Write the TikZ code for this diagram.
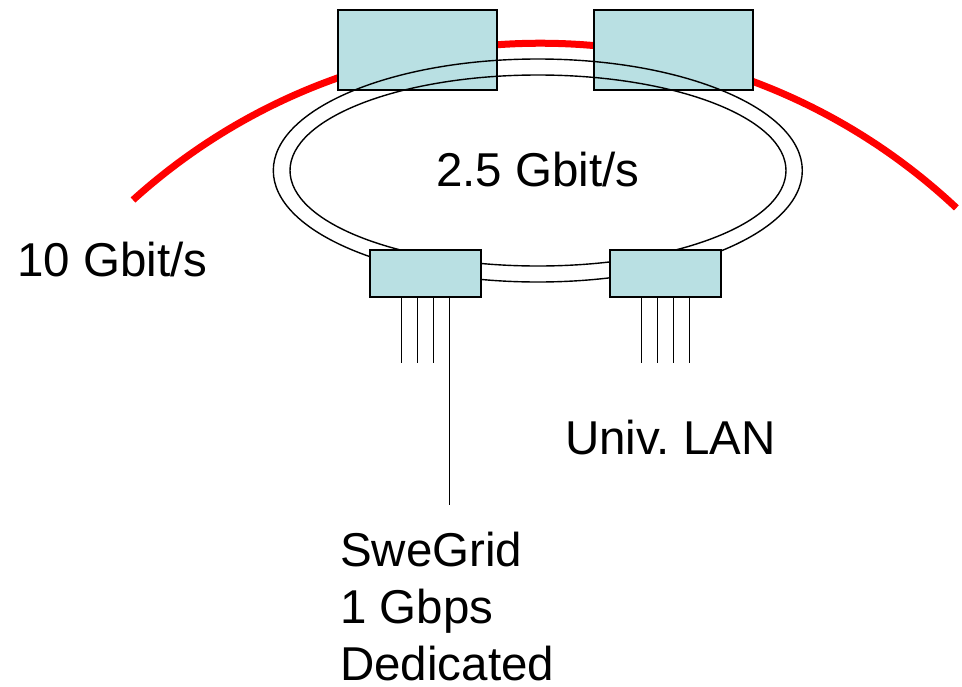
\documentclass[tikz,border=0pt]{standalone}
\usepackage{fontspec}
\setmainfont{Liberation Sans}
\frenchspacing
\usepackage{xcolor}
\definecolor{cBox}{HTML}{B9E0E3}
\definecolor{cWan}{HTML}{FF0000}
\usetikzlibrary{positioning}
\tikzset{
  node-router/.style={draw=black,line width=1.8pt,fill=cBox,inner sep=0pt,
    minimum width=159pt,minimum height=80pt},
  node-edge/.style={draw=black,line width=1.8pt,fill=cBox,inner sep=0pt,
    minimum width=111pt,minimum height=47pt},
  node-text/.style={inner sep=0pt,anchor=base west,align=left,
    font=\fontsize{47.5}{57}\selectfont},
  link-wan/.style={draw=cWan,line width=7pt},
  link-ring/.style={draw=black,line width=1.4pt},
  link-port/.style={draw=black,line width=1.4pt},
}
\begin{document}
\begin{tikzpicture}[x=1pt,y=-1pt]
  \useasboundingbox (0,0) rectangle (962,686);
  % 10 Gbit/s backbone
  \draw[link-wan] (133,200) arc[start angle=227.9,end angle=313.2,radius=607.7];
  \node[node-router] (cw) at (417.5,50) {};
  \node[node-router,right=95pt of cw] (ce) {};
  % 2.5 Gbit/s ring
  \draw[link-ring] (537.8,170.5) ellipse[x radius=264.5,y radius=111.5];
  \draw[link-ring] (538,170.5) ellipse[x radius=248,y radius=95.5];
  \node[node-edge] (gr) at (425.5,273.5) {};
  \node[node-edge,right=127pt of gr] (ln) {};
  \foreach \dx in {-24,-8,8} {
    \draw[link-port] ([xshift=\dx pt]gr.south) -- ++(0,65);
    \draw[link-port] ([xshift=\dx pt]ln.south) -- ++(0,65);
  }
  \draw[link-port] ([xshift=24pt]ln.south) -- ++(0,65);
  \coordinate (gend) at ([xshift=24pt]gr.south |- 0,505);
  \draw[link-port] ([xshift=24pt]gr.south) -- (gend);
  % labels
  \node[node-text] (wan)  at (17,276)  {10 Gbit/s};
  \node[node-text] (ring) at (436,186) {2.5 Gbit/s};
  \node[node-text] (lan)  at (565,454) {Univ. LAN};
  \node[node-text] (grid) at (340,680) {SweGrid\\1 Gbps\\Dedicated};
\end{tikzpicture}
\end{document}
